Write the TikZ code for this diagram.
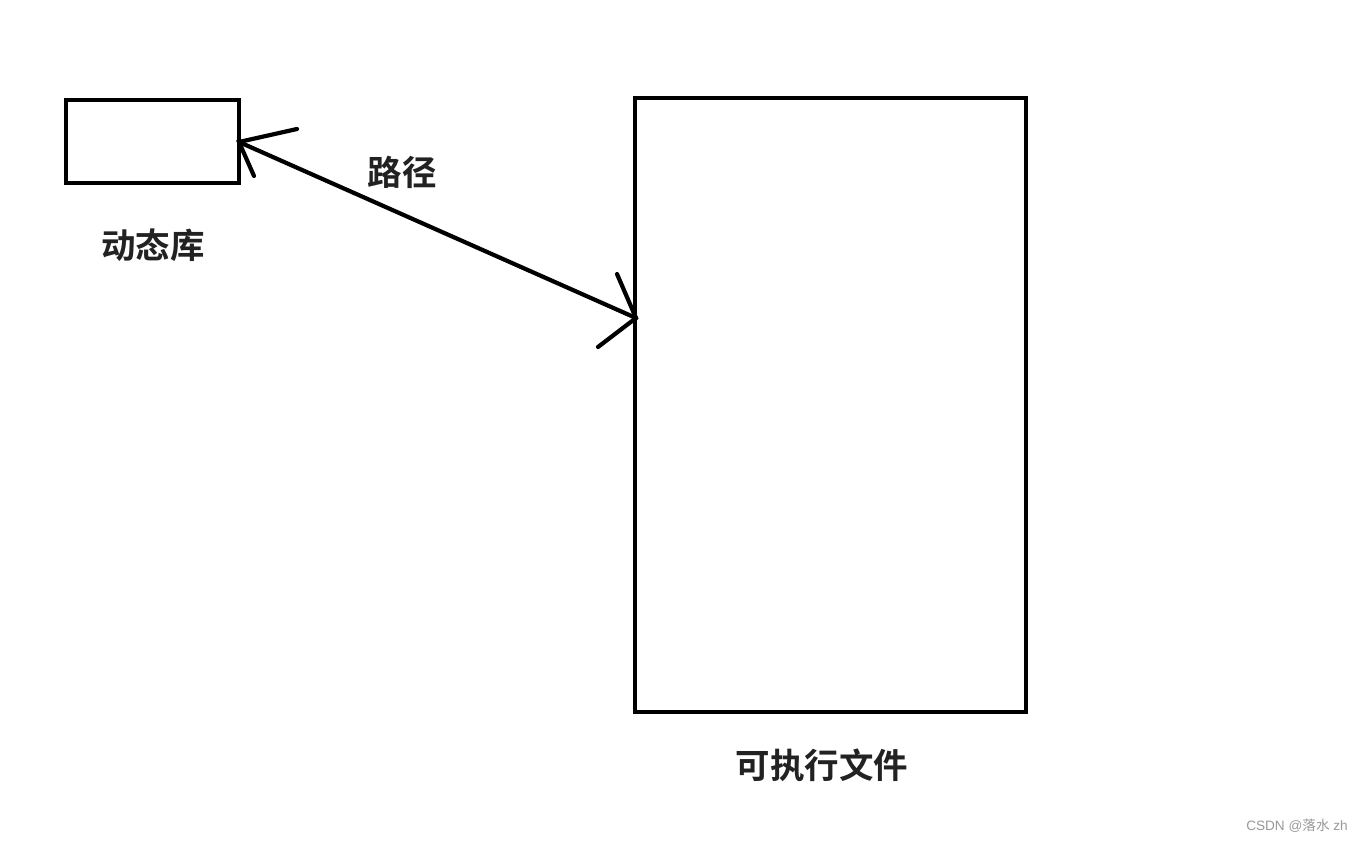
\documentclass[tikz,border=0pt]{standalone}
\usepackage{fontspec}
\newfontfamily\cjk{Noto Sans CJK SC}
\newfontfamily\cjkb{Noto Sans CJK SC Bold}
\setsansfont{Liberation Sans}
\definecolor{txt}{HTML}{222222}
\definecolor{wm}{HTML}{999999}
\tikzset{
  box/.style={draw=black, line width=4.2pt, fill=none},
  conn/.style={draw=black, line width=4.2pt, line cap=round},
  lbl/.style={text=txt, font=\cjkb\fontsize{34.5}{38}\selectfont, inner sep=0pt},
}
\begin{document}
\begin{tikzpicture}[x=1pt,y=-1pt]
\useasboundingbox[fill=white] (0,0) rectangle (1364,843);
% boxes
\draw[box] (66,100) rectangle (239,183);
\coordinate (libE) at (239,142);
\draw[box] (635,98) rectangle (1026,712);
\coordinate (exeW) at (636,318);
% connector with open heads
\draw[conn] (libE) -- (exeW);
\coordinate (la) at (297,129);
\coordinate (lb) at (254,176);
\draw[conn] (la) -- (libE) -- (lb);
\coordinate (ra) at (617,274);
\coordinate (rb) at (598,347);
\draw[conn] (ra) -- (exeW) -- (rb);
% labels
\node[lbl] (t1) at (153,245) {动态库};
\node[lbl] (t2) at (402,172) {路径};
\node[lbl] (t3) at (822,765) {可执行文件};
\node[text=wm, inner sep=0pt, font=\fontsize{13.6}{15}\selectfont] (wmk) at (1297,826) {\sffamily CSDN @\cjk 落水\sffamily\ zh};
\end{tikzpicture}
\end{document}
